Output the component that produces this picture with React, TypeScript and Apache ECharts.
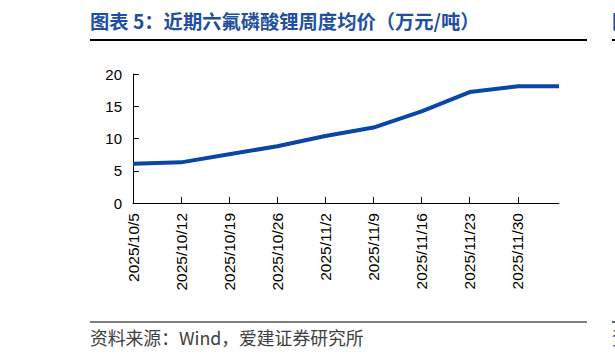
import React, { useEffect, useRef } from "react";
import * as echarts from "echarts";

const dates = [
  "2025/10/5", "2025/10/12", "2025/10/19", "2025/10/26", "2025/11/2",
  "2025/11/9", "2025/11/16", "2025/11/23", "2025/11/30", "2025/12/6",
];
const prices = [6.1, 6.3, 7.55, 8.8, 10.4, 11.7, 14.2, 17.2, 18.1, 18.1];
const tickDates = [
  "2025/10/5", "2025/10/12", "2025/10/19", "2025/10/26", "2025/11/2",
  "2025/11/9", "2025/11/16", "2025/11/23", "2025/11/30",
];
const yTicks = [0, 5, 10, 15, 20];

const titleText = "图表 5：近期六氟磷酸锂周度均价（万元/吨）";
const sourceText = "资料来源：Wind，爱建证券研究所";

const DAY = 86400000;
function toTime(s: string) {
  const [y, m, d] = s.split("/").map(Number);
  return Date.UTC(y, m - 1, d);
}
const t0 = toTime(dates[0]);
const dayOf = (s: string) => Math.round((toTime(s) - t0) / DAY);
const labelByDay: Record<number, string> = {};
tickDates.forEach((s) => (labelByDay[dayOf(s)] = s));
const tickDays = tickDates.map(dayOf);
const lastDay = dayOf(dates[dates.length - 1]);

export default function App() {
  const ref = useRef<HTMLDivElement>(null);
  useEffect(() => {
    if (!ref.current) return;
    const chart = echarts.init(ref.current, undefined, { renderer: "svg" });
    const latin = "Liberation Sans, Arial, sans-serif";
    const cjk = "Noto Sans CJK SC, sans-serif";
    chart.setOption({
      animation: false,
      backgroundColor: "#ffffff",
      grid: { left: 133, right: 56, top: 74, bottom: 158, containLabel: false },
      xAxis: {
        type: "value",
        min: 0,
        max: lastDay,
        splitLine: { show: false },
        axisLine: { show: true, lineStyle: { color: "#000", width: 1 } },
        axisTick: {
          show: true,
          inside: true,
          length: 6,
          customValues: tickDays,
          lineStyle: { color: "#000" },
        },
        axisLabel: {
          rotate: 90,
          margin: 10,
          fontSize: 15.5,
          fontFamily: latin,
          color: "#000",
          customValues: tickDays,
          formatter: (v: number) => labelByDay[v] ?? "",
        },
      },
      yAxis: {
        type: "value",
        min: 0,
        max: 20,
        interval: 5,
        splitLine: { show: false },
        axisLine: { show: true, lineStyle: { color: "#000", width: 1 } },
        axisTick: { show: true, inside: true, length: 6, lineStyle: { color: "#000" } },
        axisLabel: {
          margin: 11,
          fontSize: 15,
          fontFamily: latin,
          color: "#000",
          customValues: yTicks,
        },
      },
      series: [
        {
          type: "line",
          data: dates.map((d, i) => [dayOf(d), prices[i]]),
          showSymbol: false,
          symbol: "none",
          lineStyle: { color: "#0a46a6", width: 4 },
          itemStyle: { color: "#0a46a6" },
        },
      ],
      graphic: [
        {
          type: "text",
          left: 90,
          top: 11,
          style: {
            text: titleText,
            fill: "#1f4fa0",
            font: `bold 19.3px ${cjk}`,
          },
        },
        {
          type: "line",
          shape: { x1: 90, y1: 40, x2: 587, y2: 40 },
          style: { stroke: "#000", lineWidth: 2 },
        },
        {
          type: "line",
          shape: { x1: 90, y1: 322, x2: 587, y2: 322 },
          style: { stroke: "#000", lineWidth: 1.2 },
        },
        {
          type: "text",
          left: 90,
          top: 328,
          style: {
            text: sourceText,
            fill: "#404040",
            font: `17.8px ${cjk}`,
          },
        },
        {
          type: "text",
          left: 612,
          top: 11,
          style: { text: "图", fill: "#1f4fa0", font: `bold 19.3px ${cjk}` },
        },
        {
          type: "line",
          shape: { x1: 612, y1: 40, x2: 615, y2: 40 },
          style: { stroke: "#000", lineWidth: 2 },
        },
        {
          type: "line",
          shape: { x1: 612, y1: 322, x2: 615, y2: 322 },
          style: { stroke: "#000", lineWidth: 1.2 },
        },
        {
          type: "text",
          left: 612,
          top: 328,
          style: { text: "资", fill: "#404040", font: `17.8px ${cjk}` },
        },
      ],
    });
    return () => chart.dispose();
  }, []);
  return (
    <div
      ref={ref}
      style={{ position: "fixed", left: 0, top: 0, width: 615, height: 361 }}
    />
  );
}
